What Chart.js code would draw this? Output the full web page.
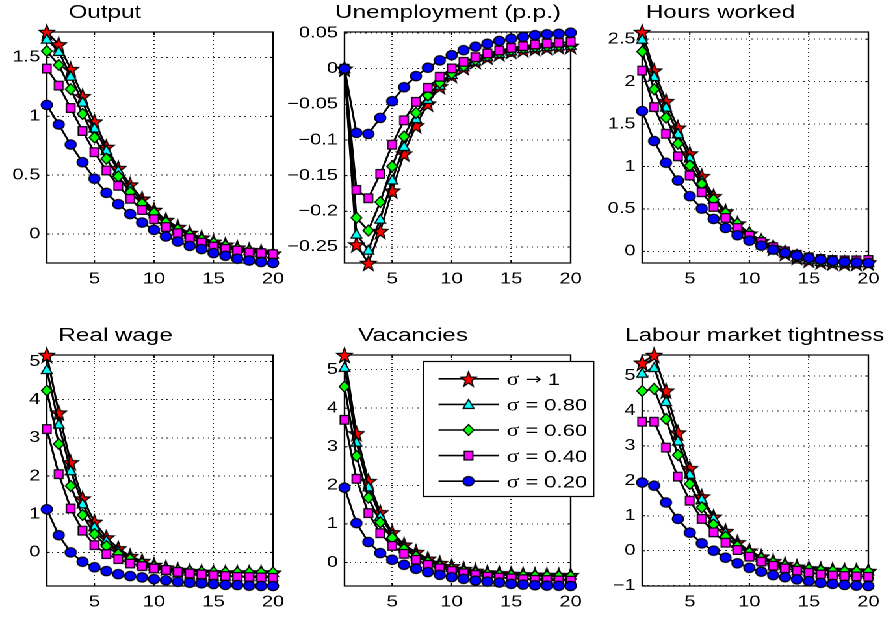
<!DOCTYPE html>
<html><head><meta charset="utf-8">
<script src="https://cdn.jsdelivr.net/npm/chart.js@4"></script>
<style>
html,body{margin:0;padding:0;background:#fff;overflow:hidden;width:891px;height:617px}
#wrap{position:absolute;left:0;top:0;width:686px;height:617px;transform:scaleX(1.3);transform-origin:0 0}
#wrap canvas{position:absolute}
</style></head><body><div id="wrap"></div>
<script>
// ---------------- data ----------------
const periods = [1,2,3,4,5,6,7,8,9,10,11,12,13,14,15,16,17,18,19,20];
const xTicks = [5,10,15,20];
const seriesLabels = ['σ → 1','σ = 0.80','σ = 0.60','σ = 0.40','σ = 0.20'];
const panelTitles = ['Output','Unemployment (p.p.)','Hours worked','Real wage','Vacancies','Labour market tightness'];

const out_s1  = [1.715,1.61,1.40,1.17,0.955,0.74,0.56,0.42,0.30,0.205,0.12,0.06,0.01,-0.03,-0.065,-0.09,-0.115,-0.135,-0.15,-0.165];
const out_s08 = [1.655,1.55,1.34,1.12,0.90,0.71,0.54,0.39,0.28,0.19,0.11,0.05,0.0,-0.04,-0.07,-0.095,-0.12,-0.14,-0.155,-0.168];
const out_s06 = [1.553,1.435,1.23,1.02,0.82,0.64,0.49,0.355,0.26,0.18,0.10,0.04,-0.005,-0.045,-0.075,-0.10,-0.125,-0.143,-0.158,-0.17];
const out_s04 = [1.405,1.26,1.07,0.875,0.695,0.54,0.41,0.30,0.205,0.127,0.06,0.008,-0.034,-0.072,-0.105,-0.125,-0.139,-0.156,-0.161,-0.17];
const out_s02 = [1.096,0.93,0.76,0.61,0.47,0.35,0.254,0.17,0.098,0.036,-0.02,-0.063,-0.10,-0.127,-0.161,-0.184,-0.209,-0.224,-0.237,-0.245];
const outTicks = [0,0.5,1,1.5];
const outRange = [-0.245,1.715];

const une_s1  = [0,-0.2465,-0.2725,-0.2277,-0.171,-0.119,-0.0794,-0.049,-0.0246,-0.0086,0.0023,0.0108,0.017,0.0216,0.025,0.0272,0.029,0.0305,0.0315,0.032];
const une_s08 = [0,-0.232,-0.2545,-0.211,-0.156,-0.109,-0.07,-0.043,-0.0231,-0.0081,0.0028,0.0108,0.017,0.0216,0.025,0.0281,0.0296,0.031,0.032,0.0329];
const une_s06 = [0,-0.209,-0.227,-0.187,-0.137,-0.095,-0.062,-0.0376,-0.0197,-0.0066,0.0038,0.0122,0.018,0.0226,0.0264,0.0288,0.031,0.032,0.033,0.0336];
const une_s04 = [0,-0.17,-0.1817,-0.1475,-0.1066,-0.0724,-0.0465,-0.0268,-0.0113,0.0004,0.0096,0.0162,0.0214,0.0256,0.0293,0.0317,0.034,0.0355,0.0364,0.0378];
const une_s02 = [0,-0.09,-0.0915,-0.069,-0.0456,-0.026,-0.0104,0.0014,0.0117,0.019,0.026,0.0309,0.035,0.039,0.042,0.0446,0.047,0.0483,0.049,0.0505];
const uneTicks = [-0.25,-0.2,-0.15,-0.1,-0.05,0,0.05];
const uneRange = [-0.2725,0.0515];

const hrs_s1  = [2.585,2.13,1.77,1.457,1.153,0.886,0.65,0.47,0.327,0.209,0.12,0.042,-0.018,-0.065,-0.098,-0.118,-0.13,-0.137,-0.137,-0.13];
const hrs_s08 = [2.50,2.06,1.70,1.386,1.10,0.835,0.617,0.453,0.315,0.197,0.111,0.04,-0.02,-0.066,-0.098,-0.118,-0.13,-0.136,-0.135,-0.13];
const hrs_s06 = [2.354,1.91,1.575,1.27,1.012,0.795,0.61,0.453,0.327,0.213,0.13,0.059,0.0,-0.05,-0.085,-0.11,-0.126,-0.13,-0.13,-0.125];
const hrs_s04 = [2.13,1.70,1.386,1.12,0.894,0.697,0.524,0.394,0.276,0.185,0.11,0.05,0.0,-0.04,-0.07,-0.09,-0.102,-0.106,-0.106,-0.102];
const hrs_s02 = [1.653,1.30,1.044,0.835,0.65,0.504,0.382,0.276,0.19,0.126,0.067,0.02,-0.018,-0.05,-0.077,-0.097,-0.112,-0.124,-0.132,-0.137];
const hrsTicks = [0,0.5,1,1.5,2,2.5];
const hrsRange = [-0.137,2.585];

const wag_s1  = [5.17,3.66,2.36,1.41,0.80,0.39,0.105,-0.096,-0.227,-0.33,-0.40,-0.46,-0.49,-0.51,-0.524,-0.53,-0.53,-0.53,-0.53,-0.53];
const wag_s08 = [4.79,3.36,2.14,1.27,0.67,0.31,0.04,-0.13,-0.26,-0.36,-0.42,-0.46,-0.49,-0.505,-0.515,-0.52,-0.52,-0.525,-0.525,-0.525];
const wag_s06 = [4.24,2.84,1.74,0.98,0.48,0.166,-0.044,-0.18,-0.29,-0.375,-0.43,-0.47,-0.495,-0.51,-0.52,-0.525,-0.53,-0.53,-0.53,-0.53];
const wag_s04 = [3.23,2.05,1.15,0.57,0.19,-0.044,-0.175,-0.29,-0.36,-0.42,-0.46,-0.51,-0.55,-0.576,-0.60,-0.62,-0.64,-0.646,-0.655,-0.664];
const wag_s02 = [1.13,0.45,0.0,-0.245,-0.39,-0.49,-0.57,-0.62,-0.655,-0.70,-0.73,-0.77,-0.795,-0.81,-0.83,-0.85,-0.855,-0.873,-0.88,-0.88];
const wagTicks = [0,1,2,3,4,5];
const wagRange = [-0.88,5.17];

const vac_s1  = [5.38,3.35,2.11,1.30,0.78,0.46,0.27,0.095,-0.017,-0.10,-0.17,-0.217,-0.26,-0.28,-0.295,-0.31,-0.32,-0.325,-0.33,-0.33];
const vac_s08 = [5.06,3.12,1.96,1.20,0.72,0.42,0.226,0.07,-0.043,-0.13,-0.19,-0.234,-0.26,-0.285,-0.30,-0.31,-0.32,-0.325,-0.33,-0.33];
const vac_s06 = [4.56,2.76,1.68,1.04,0.635,0.35,0.156,0.01,-0.10,-0.17,-0.23,-0.27,-0.30,-0.32,-0.335,-0.345,-0.35,-0.355,-0.36,-0.36];
const vac_s04 = [3.70,2.17,1.28,0.76,0.43,0.226,0.07,-0.06,-0.15,-0.217,-0.28,-0.32,-0.365,-0.39,-0.41,-0.434,-0.45,-0.455,-0.465,-0.47];
const vac_s02 = [1.94,1.02,0.53,0.243,0.07,-0.06,-0.165,-0.25,-0.32,-0.38,-0.425,-0.47,-0.495,-0.52,-0.555,-0.575,-0.59,-0.60,-0.605,-0.61];
const vacTicks = [0,1,2,3,4,5];
const vacRange = [-0.61,5.38];

const lmt_s1  = [5.38,5.60,4.58,3.38,2.36,1.55,0.97,0.56,0.24,0.0,-0.17,-0.30,-0.39,-0.46,-0.505,-0.53,-0.55,-0.565,-0.57,-0.58];
const lmt_s08 = [5.08,5.24,4.27,3.14,2.19,1.47,0.93,0.52,0.21,-0.03,-0.19,-0.31,-0.41,-0.48,-0.515,-0.54,-0.56,-0.57,-0.575,-0.58];
const lmt_s06 = [4.57,4.63,3.77,2.74,1.91,1.24,0.75,0.40,0.134,-0.057,-0.22,-0.34,-0.43,-0.49,-0.53,-0.565,-0.58,-0.59,-0.595,-0.60];
const lmt_s04 = [3.69,3.69,2.95,2.12,1.43,0.91,0.525,0.23,0.02,-0.17,-0.31,-0.43,-0.505,-0.57,-0.63,-0.68,-0.71,-0.725,-0.735,-0.745];
const lmt_s02 = [1.95,1.86,1.38,0.91,0.515,0.21,0.0,-0.20,-0.36,-0.49,-0.60,-0.70,-0.76,-0.82,-0.87,-0.92,-0.95,-0.98,-1.00,-1.01];
const lmtTicks = [-1,0,1,2,3,4,5];
const lmtRange = [-1.01,5.60];

// ---------------- layout / style (not data) ----------------
const S = 1.3;                       // horizontal stretch of the whole figure
const FONT = '"Liberation Sans", Arial, Helvetica, sans-serif';
const colLeft = [35.6, 264.6, 493.6]; // chart-area left (unstretched px)
const rowTop = [32.3, 355.3];
const PW = 174, PH = 231, YW = 45, XH = 35, PADT = 35, PADR = 25;
const fills = ['#ff0000','#00ffff','#00ff00','#ff00ff','#0000ff'];
const kinds = ['star','triangle','diamond','square','circle'];

function markerCanvas(kind, fill) {
  const BW = 14 * S, BH = 18, k = 4;
  const c = document.createElement('canvas');
  c.width = 14 * k; c.height = BH * k;
  const g = c.getContext('2d');
  g.scale(c.width / BW, c.height / BH);
  g.translate(BW / 2, BH / 2);
  g.fillStyle = fill; g.strokeStyle = '#000'; g.lineWidth = 1.25; g.lineJoin = 'miter';
  g.beginPath();
  if (kind === 'star') {
    for (let i = 0; i < 10; i++) {
      const r = i % 2 ? 3.3 : 8.0, a = -Math.PI / 2 + i * Math.PI / 5;
      const px = r * Math.cos(a), py = r * Math.sin(a) + 0.9;
      i ? g.lineTo(px, py) : g.moveTo(px, py);
    }
  } else if (kind === 'triangle') {
    g.moveTo(0, -5.0); g.lineTo(5.4, 4.0); g.lineTo(-5.4, 4.0);
  } else if (kind === 'diamond') {
    g.moveTo(0, -5.5); g.lineTo(5.3, 0); g.lineTo(0, 5.5); g.lineTo(-5.3, 0);
  } else if (kind === 'square') {
    g.rect(-4.3, -4.3, 8.6, 8.6);
  } else {
    g.ellipse(0, 0, 5.5, 4.6, 0, 0, Math.PI * 2);
  }
  g.closePath(); g.fill(); g.stroke();
  return c;
}
function loadImg(canvas) {
  return new Promise(res => {
    const img = new Image();
    img.onload = () => res(img);
    img.width = 14; img.height = 18;
    img.src = canvas.toDataURL();
  });
}
const fmt = v => (v < 0 ? '\u2212' : '') + String(Math.abs(v));

(async function () {
  const imgs = await Promise.all(kinds.map((k, i) => loadImg(markerCanvas(k, fills[i]))));

  const panels = [
    {t: panelTitles[0], c: 0, r: 0, s: [out_s1,out_s08,out_s06,out_s04,out_s02], ticks: outTicks, range: outRange, tx: 44.6},
    {t: panelTitles[1], c: 1, r: 0, s: [une_s1,une_s08,une_s06,une_s04,une_s02], ticks: uneTicks, range: uneRange, tx: 79.6},
    {t: panelTitles[2], c: 2, r: 0, s: [hrs_s1,hrs_s08,hrs_s06,hrs_s04,hrs_s02], ticks: hrsTicks, range: hrsRange, tx: 60.2},
    {t: panelTitles[3], c: 0, r: 1, s: [wag_s1,wag_s08,wag_s06,wag_s04,wag_s02], ticks: wagTicks, range: wagRange, tx: 52.9},
    {t: panelTitles[4], c: 1, r: 1, s: [vac_s1,vac_s08,vac_s06,vac_s04,vac_s02], ticks: vacTicks, range: vacRange, tx: 52.7, legend: true},
    {t: panelTitles[5], c: 2, r: 1, s: [lmt_s1,lmt_s08,lmt_s06,lmt_s04,lmt_s02], ticks: lmtTicks, range: lmtRange, tx: 86.6}
  ];

  const wrap = document.getElementById('wrap');

  function drawLegendText(ctx, lab, x0, y) {
    // sigma in a serif (Symbol-like) face, arrow in DejaVu, the rest in sans
    let x = x0;
    for (const ch of lab) {
      if (ch === 'σ') ctx.font = '18px "Liberation Serif", "DejaVu Serif", serif';
      else if (ch === '→') ctx.font = '15px "DejaVu Sans", sans-serif';
      else ctx.font = '17px ' + FONT;
      ctx.fillText(ch, x, y + (ch === '→' ? 5.0 : 6.2));
      x += ctx.measureText(ch).width;
    }
  }

  const framePlugin = {
    id: 'frame',
    beforeDatasetsDraw(chart) {
      const {ctx, chartArea: a, scales} = chart;
      ctx.save();
      ctx.strokeStyle = '#000'; ctx.lineWidth = 1;
      ctx.beginPath();
      const tl = 3;
      scales.x.ticks.forEach(t => {
        const x = scales.x.getPixelForValue(t.value);
        ctx.moveTo(x, a.top); ctx.lineTo(x, a.top + tl);
        ctx.moveTo(x, a.bottom); ctx.lineTo(x, a.bottom - tl);
      });
      scales.y.ticks.forEach(t => {
        const y = scales.y.getPixelForValue(t.value);
        ctx.moveTo(a.left, y); ctx.lineTo(a.left + tl / S, y);
        ctx.moveTo(a.right, y); ctx.lineTo(a.right - tl / S, y);
      });
      ctx.stroke();
      ctx.lineWidth = 1.2;
      ctx.strokeRect(a.left, a.top, a.right - a.left, a.bottom - a.top);
      ctx.restore();
    },
    afterDraw(chart, args, opts) {
      const {ctx, chartArea: a} = chart;
      ctx.save();
      ctx.fillStyle = '#000';
      ctx.font = '18.6px ' + FONT;
      ctx.textAlign = 'center'; ctx.textBaseline = 'alphabetic';
      ctx.fillText(opts.title, a.left + opts.tx, a.top - 14);
      if (opts.legend) {
        const L = a.left + 60.8, R = a.left + 191.6, T = a.top + 6.5, B = a.top + 141.5;
        ctx.fillStyle = '#fff';
        ctx.fillRect(L, T, R - L, B - T);
        ctx.strokeStyle = '#000'; ctx.lineWidth = 1.2;
        ctx.strokeRect(L, T, R - L, B - T);
        seriesLabels.forEach((lab, i) => {
          const y = a.top + 23.8 + i * 25.6;
          ctx.beginPath(); ctx.lineWidth = 1.6; ctx.strokeStyle = '#000';
          ctx.moveTo(a.left + 72.3, y); ctx.lineTo(a.left + 118.5, y); ctx.stroke();
          const im = imgs[i];
          ctx.drawImage(im, a.left + 95.4 - im.width / 2, y - im.height / 2, im.width, im.height);
          ctx.fillStyle = '#000'; ctx.textAlign = 'left';
          drawLegendText(ctx, lab, a.left + 124.6, y);
        });
      }
      ctx.restore();
    }
  };

  panels.forEach(p => {
    const cv = document.createElement('canvas');
    const W = YW + PW + PADR, H = PADT + PH + XH;
    cv.width = W; cv.height = H;
    cv.style.left = (colLeft[p.c] - YW) + 'px';
    cv.style.top = (rowTop[p.r] - PADT) + 'px';
    cv.style.width = W + 'px'; cv.style.height = H + 'px';
    wrap.appendChild(cv);

    const datasets = p.s.map((arr, i) => ({
      label: seriesLabels[i],
      data: periods.map((x, j) => ({x: x, y: arr[j]})),
      borderColor: '#000',
      borderWidth: 1.6,
      backgroundColor: fills[i],
      pointStyle: imgs[i],
      pointRadius: 5,
      pointBorderColor: '#000',
      pointBackgroundColor: fills[i],
      tension: 0,
      clip: false,
      order: 4 - i
    }));

    const gridCfg = {color: 'rgba(0,0,0,0.85)', lineWidth: 1, drawTicks: false};
    const borderCfg = {display: false, dash: [1, 3]};
    const tickFont = {family: FONT, size: 15.5};

    new Chart(cv, {
      type: 'line',
      data: {datasets},
      options: {
        responsive: false,
        animation: false,
        devicePixelRatio: 2,
        events: [],
        layout: {padding: {top: PADT, right: PADR, left: 0, bottom: 0}},
        plugins: {
          legend: {display: false},
          tooltip: {enabled: false},
          frame: {title: p.t, tx: p.tx, legend: !!p.legend}
        },
        scales: {
          x: {
            type: 'linear', min: 1, max: 20,
            afterBuildTicks: s => { s.ticks = xTicks.map(v => ({value: v})); },
            afterFit: s => { s.height = XH; },
            ticks: {padding: 7, color: '#000', font: tickFont, maxRotation: 0, autoSkip: false, callback: v => fmt(v)},
            grid: gridCfg, border: borderCfg
          },
          y: {
            type: 'linear', min: p.range[0], max: p.range[1],
            afterBuildTicks: s => { s.ticks = p.ticks.map(v => ({value: v})); },
            afterFit: s => { s.width = YW; },
            ticks: {padding: 5, color: '#000', font: tickFont, autoSkip: false, callback: v => fmt(v)},
            grid: gridCfg, border: borderCfg
          }
        }
      },
      plugins: [framePlugin]
    });
  });
})();
</script>
</body></html>
